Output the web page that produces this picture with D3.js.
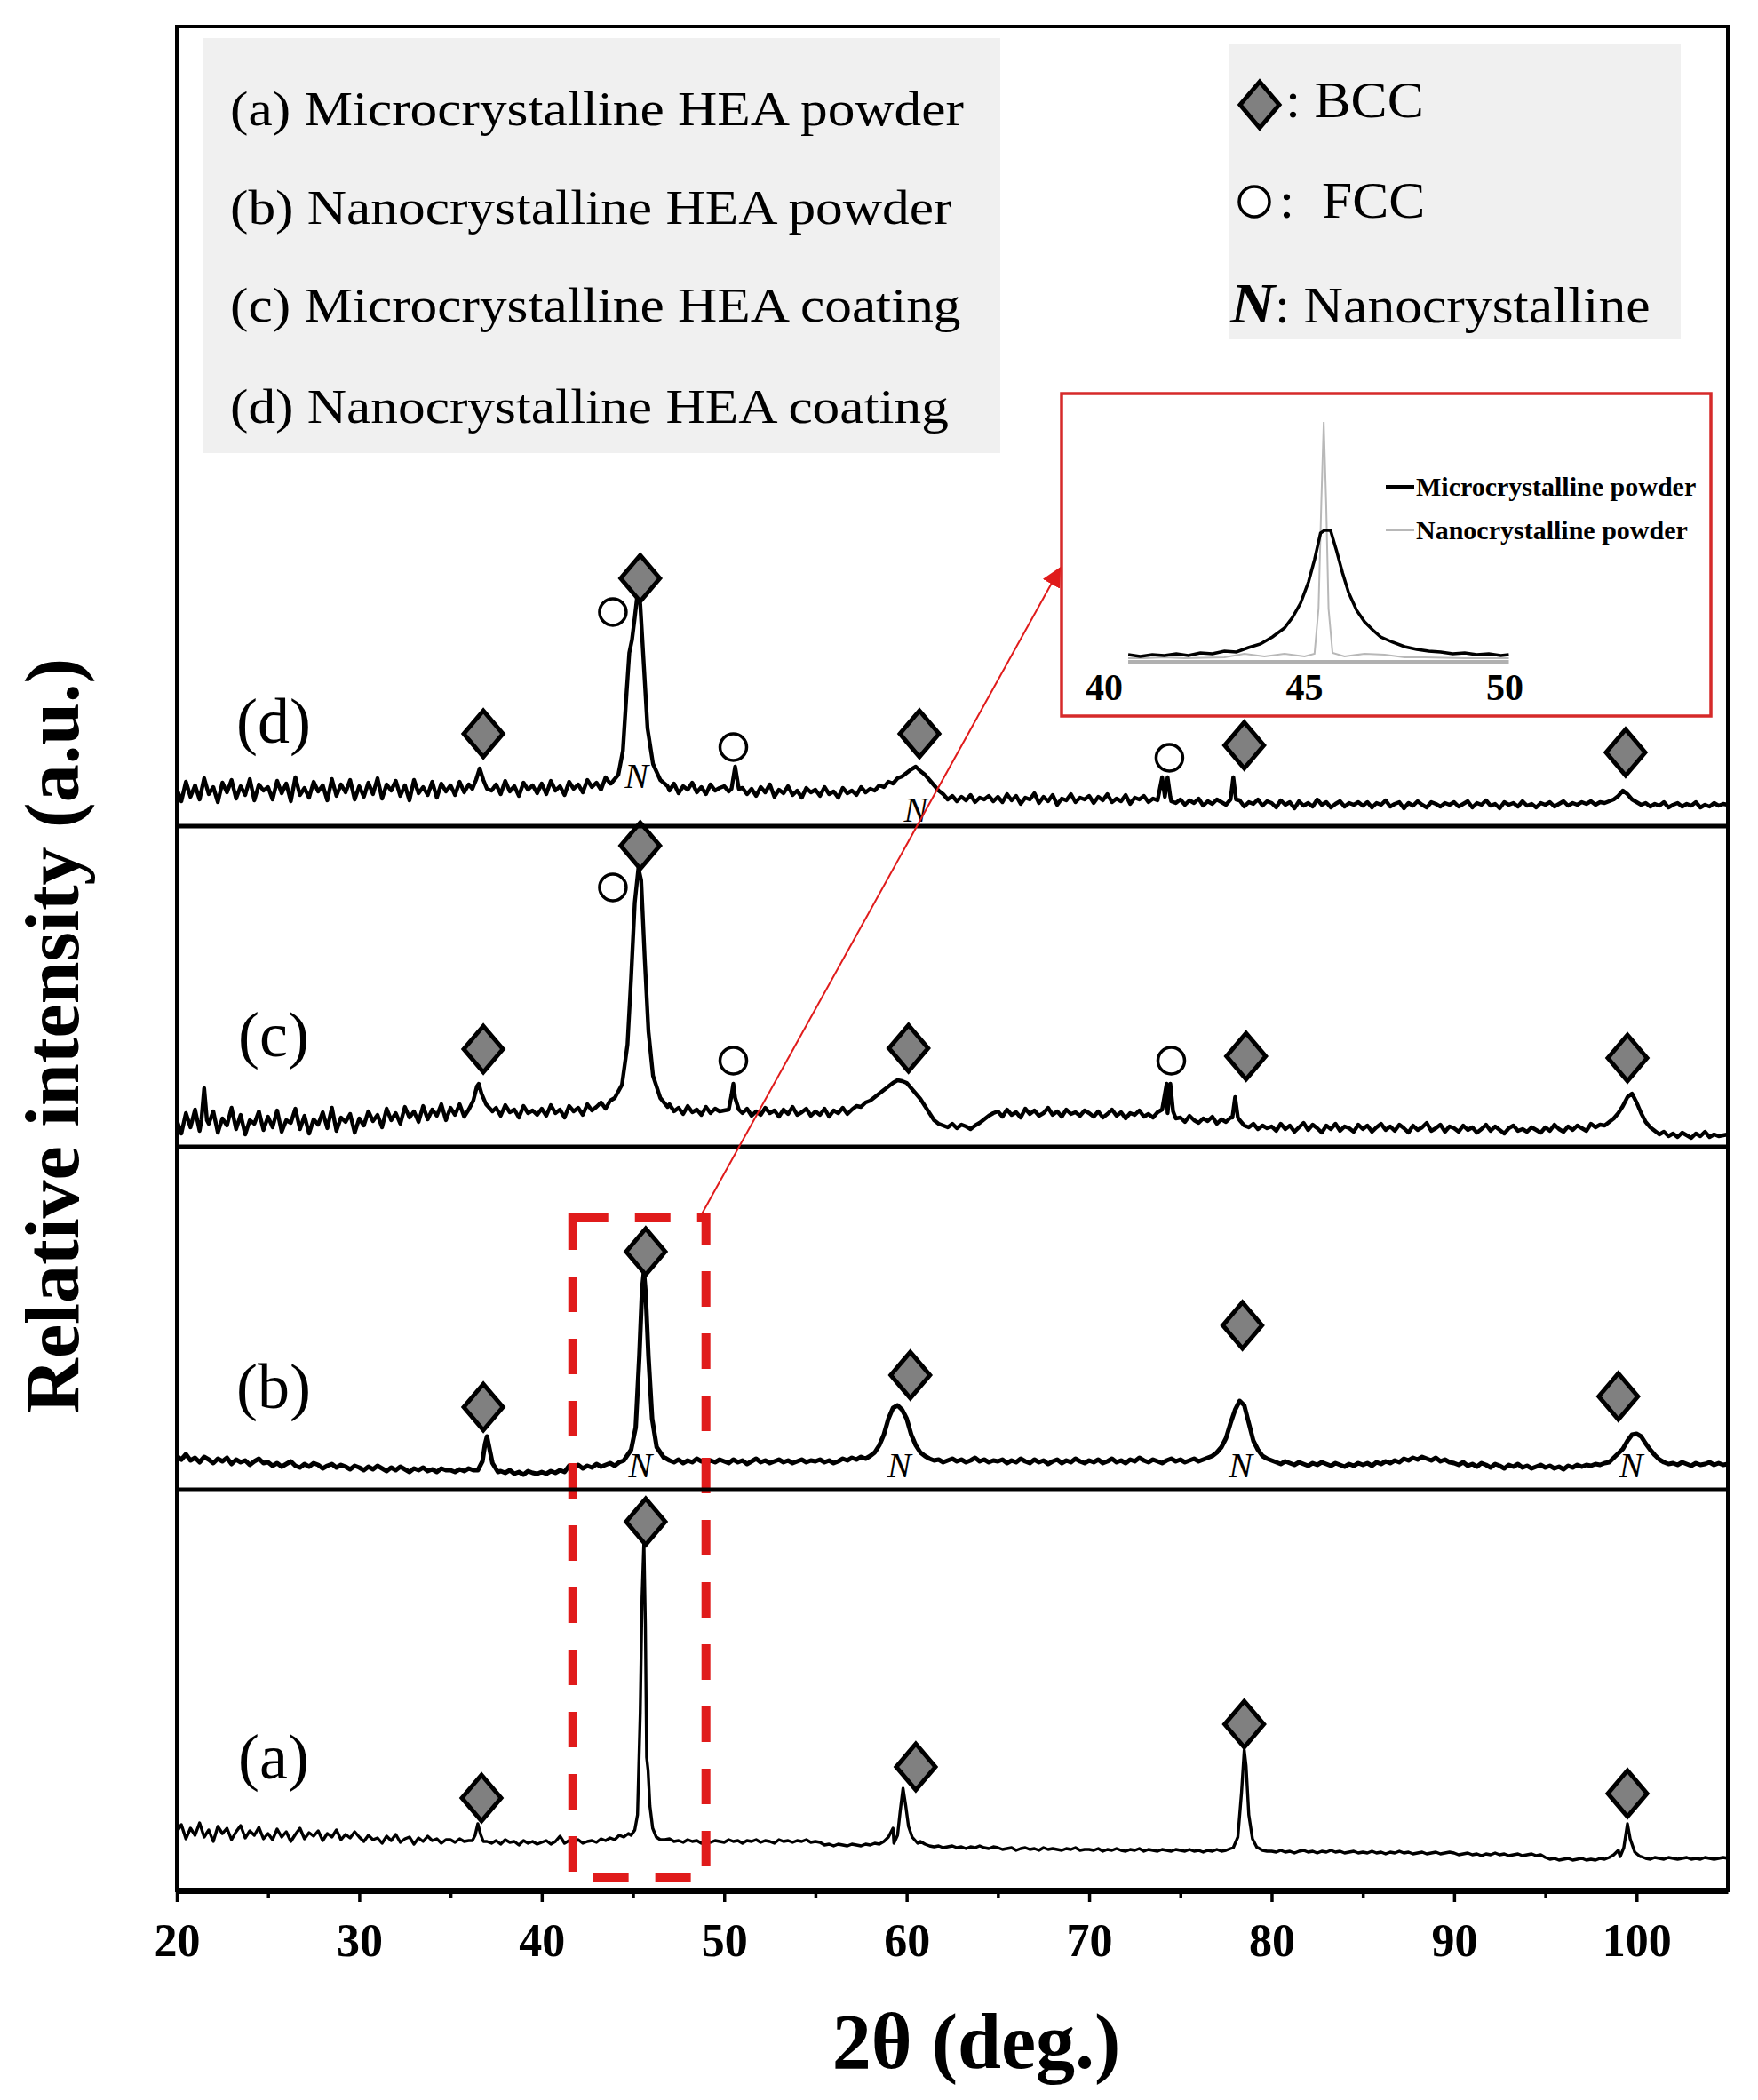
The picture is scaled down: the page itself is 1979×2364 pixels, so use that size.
<!DOCTYPE html>
<html><head><meta charset="utf-8">
<script src="https://cdn.jsdelivr.net/npm/d3@7"></script>
<style>
body{margin:0;background:#fff}
svg{display:block}
text{font-family:"Liberation Serif","Times New Roman",serif;fill:#000}
</style>
</head><body>
<svg id="chart" width="1979" height="2364"></svg>
<script>
// ---------------- DATA ----------------
const xTicks = [20, 30, 40, 50, 60, 70, 80, 90, 100];
const xMinorTicks = [25, 35, 45, 55, 65, 75, 85, 95];
const panelLabels = ["(a)", "(b)", "(c)", "(d)"];
const legendLabels = ["(a) Microcrystalline HEA powder", "(b) Nanocrystalline HEA powder",
  "(c) Microcrystalline HEA coating", "(d) Nanocrystalline HEA coating"];
const phaseLabels = [": BCC", ":  FCC", ": Nanocrystalline"];
const insetTicks = [40, 45, 50];
const insetSeriesNames = ["Microcrystalline powder", "Nanocrystalline powder"];
const gridStep = 0.25;

// baseline segments: [start 2θ, intensity values every 0.25°]
const baseA = [
 [20,[66,74,58,70,62,76,60,68,55,72,64,70,57,66,73,59,67,62,71,58]],
 [25,[64,57,69,60,66,55,63,70,58,65,61,67,56,64,60,68,57,63,59,66]],
 [30,[60,55,62,57,59,53,61,56,63,54,58,60,52,59,55,61,56,58,53,57]],
 [35,[57,54,58,55,56,57,68,60,55,53,56,52,57,54,55,51,56,53,55,52]],
 [40,[54,56,52,55,61,53,56,54,57,53,55,56,54,58,56,59,57,62,60,64]],
 [45,[80,150,300,200,90,66,60,57,58,55,56,54,57,55,56,53,57,54,56,55]],
 [50,[54,57,55,56,53,56,55,57,54,56,55,53,57,55,56,54,56,55,57,54]],
 [55,[55,54,51,52,50,52,51,50,52,51,50,52,51,53,52,55,60,70,95,112]],
 [60,[100,75,62,55,52,50,49,50,48,49,50,48,49,47,49,48,50,48,47,49]],
 [65,[48,46,47,48,45,47,48,46,47,45,48,46,47,46,45,47,46,48,45,46]],
 [70,[46,45,47,44,46,45,47,45,44,46,45,47,44,46,45,44,46,45,44,46]],
 [75,[45,44,46,44,45,43,45,44,46,44,45,47,50,75,158,90,58,48,45,44]],
 [80,[44,43,45,43,44,42,44,45,43,44,42,44,43,45,43,44,42,43,44,42]],
 [85,[43,42,44,42,43,41,43,42,44,42,43,41,42,43,41,42,43,41,42,43]],
 [90,[42,40,41,42,40,41,39,41,40,42,40,41,39,40,41,39,40,41,39,40]],
 [95,[37,35,36,34,35,36,34,35,36,34,35,34,36,35,37,40,45,52,75,55]],
 [100,[44,38,36,35,37,36,35,37,36,35,36,37,35,36,35,37,36,35,36,37]],
 [105,[36]]
];
const peaksA = [
 [[36.2,56],[36.35,62],[36.5,75],[36.65,63],[36.8,55]],
 [[44.9,62],[45.1,68],[45.25,85],[45.4,200],[45.5,330],[45.6,393],[45.68,300],[45.75,150],[45.83,135],[45.93,95],[46.08,70],[46.28,60],[46.5,57]],
 [[59.3,53],[59.5,62],[59.65,90],[59.8,115],[59.95,95],[60.1,72],[60.3,60],[60.6,53]],
 [[77.9,48],[78.15,60],[78.35,110],[78.5,158],[78.6,140],[78.75,85],[78.95,58],[79.2,48]],
 [[99.1,38],[99.3,48],[99.5,75],[99.65,58],[99.9,43],[100.2,38]]
];

const baseB = [
 [20,[38,34,40,33,36,31,37,34,30,35,32,36,29,34,31,33,28,32,35,30]],
 [25,[31,27,30,26,29,32,27,25,29,26,30,28,24,27,29,25,28,26,23,27]],
 [30,[25,22,26,23,27,24,21,25,22,26,23,20,24,22,25,21,23,20,24,22]],
 [35,[22,20,23,21,24,22,24,35,60,38,25,21,19,22,18,20,17,21,19,18]],
 [40,[20,18,21,19,22,20,27,25,28,24,27,25,29,26,28,30,27,31,33,36]],
 [45,[60,120,200,245,170,80,45,36,33,31,34,30,33,31,35,32,30,33,31,34]],
 [50,[32,30,34,31,33,29,32,35,31,33,30,32,34,31,33,30,32,34,31,33]],
 [55,[32,34,31,33,30,32,35,33,36,34,37,35,38,42,50,62,80,92,95,90]],
 [60,[80,62,50,42,38,35,33,34,31,33,35,32,34,31,33,36,32,34,31,33]],
 [65,[32,34,30,33,31,35,32,30,34,31,33,29,32,34,30,33,31,35,32,30]],
 [70,[33,31,34,30,32,35,31,33,30,34,32,36,33,31,34,32,30,33,35,32]],
 [75,[34,31,33,35,32,34,36,38,42,48,58,75,90,100,95,75,55,45,38,35]],
 [80,[33,31,29,32,30,28,31,29,27,30,28,31,29,27,30,28,26,29,27,30]],
 [85,[28,30,27,31,29,32,30,33,31,35,33,36,34,37,35,33,36,32,34,31]],
 [90,[30,28,31,27,29,26,30,28,25,29,27,24,28,26,29,25,27,24,26,28]],
 [95,[25,27,24,26,23,27,25,28,26,28,27,29,28,30,31,36,41,46,55,62]],
 [100,[63,60,52,45,39,34,31,29,30,28,31,29,27,30,28,29,31,28,30,28]],
 [105,[29]]
];
const peaksB = [
 [[36.5,22],[36.75,32],[36.9,52],[37.0,60],[37.1,50],[37.3,30],[37.6,20]],
 [[44.6,36],[44.9,45],[45.15,70],[45.35,150],[45.5,225],[45.6,245],[45.7,220],[45.85,150],[46.05,80],[46.3,48],[46.7,36]]
];

const baseC = [
 [20,[30,15,38,22,42,18,34,26,40,16,32,24,44,20,36,14,30,26,40,19]],
 [25,[34,22,41,17,30,27,43,20,35,15,31,25,39,21,44,18,33,28,37,16]],
 [30,[32,24,40,29,36,22,43,30,38,26,45,33,40,28,46,31,42,35,48,30]],
 [35,[44,36,48,34,42,45,60,55,46,38,44,35,47,39,42,33,46,38,41,36]],
 [40,[43,35,47,38,42,33,46,40,44,36,48,41,45,50,43,52,55,60,70,100]],
 [45,[200,300,310,220,130,80,56,45,48,40,44,37,46,39,42,36,45,38,43,40]],
 [50,[41,37,68,44,38,43,35,40,36,44,38,41,34,42,37,45,36,39,43,35]],
 [55,[40,36,43,34,41,38,44,37,42,46,45,50,52,56,60,64,68,72,75,74]],
 [60,[72,66,60,54,46,38,30,26,24,22,26,21,25,23,20,24,27,31,35,38]],
 [65,[40,34,42,36,39,33,43,37,41,35,38,44,36,40,34,42,37,39,35,41]],
 [70,[38,34,40,33,37,42,35,39,32,38,36,41,34,37,33,39,42,71,40,32]],
 [75,[33,28,35,30,27,32,29,34,26,31,28,33,56,30,24,22,26,20,24,21]],
 [80,[23,18,26,20,24,17,22,27,19,25,21,16,24,20,26,18,23,21,17,25]],
 [85,[20,24,17,22,26,19,23,18,25,21,16,24,19,22,27,18,21,25,17,23]],
 [90,[21,17,24,19,22,16,20,25,18,23,19,15,21,24,18,20,17,22,19,16]],
 [95,[22,18,25,20,17,23,19,24,21,18,26,22,25,24,28,32,38,46,56,60]],
 [100,[50,38,28,22,18,14,17,12,15,11,16,13,10,15,12,17,11,14,12,13]],
 [105,[14]]
];
const peaksC = [
 [[21.35,30],[21.5,66],[21.65,30]],
 [[36.0,42],[36.25,52],[36.45,68],[36.55,71],[36.7,60],[36.95,48],[37.3,40]],
 [[44.0,55],[44.4,70],[44.7,115],[44.9,190],[45.1,275],[45.3,314],[45.45,300],[45.65,210],[45.85,130],[46.1,80],[46.5,55],[46.9,45]],
 [[50.25,42],[50.4,58],[50.5,71],[50.6,55],[50.8,42]],
 [[74.3,38],[74.45,71],[74.6,40]],
 [[77.85,33],[78.0,56],[78.15,33]]
];

const baseD = [
 [20,[42,28,50,33,46,30,54,36,44,27,49,38,52,31,45,35,53,29,47,40]],
 [25,[44,30,51,37,48,28,55,35,43,32,50,39,46,29,53,34,47,38,52,30]],
 [30,[45,33,49,36,54,31,47,40,51,34,46,29,52,37,44,35,50,32,48,39]],
 [35,[46,35,50,38,47,52,58,62,50,40,47,36,51,39,45,34,49,41,46,37]],
 [40,[48,36,51,40,45,35,50,42,47,38,52,44,49,41,55,48,60,80,150,200]],
 [45,[215,262,220,130,75,55,50,46,40,48,37,45,41,49,38,44,36,47,40,43]],
 [50,[45,39,50,67,43,36,42,34,44,38,47,33,41,37,45,35,40,32,43,38]],
 [55,[41,34,44,36,39,32,43,37,40,35,44,38,42,40,46,44,50,48,54,56]],
 [60,[60,64,67,62,58,52,46,40,36,30,34,28,33,29,35,27,32,30,34,28]],
 [65,[33,27,36,29,34,25,32,30,37,26,33,28,35,24,31,29,36,27,32,30]],
 [70,[34,26,33,29,36,27,31,28,35,25,32,30,34,27,31,29,55,30,28,26]],
 [75,[30,24,29,26,31,23,28,25,30,27,24,55,26,29,22,27,25,30,23,28]],
 [80,[26,21,29,24,27,20,28,23,26,22,30,24,27,21,25,28,22,26,24,27]],
 [85,[23,27,21,26,24,29,22,25,27,20,26,23,28,24,21,27,25,22,26,24]],
 [90,[27,22,25,28,21,26,24,29,23,25,20,27,24,26,22,28,23,25,21,26]],
 [95,[24,27,22,25,28,23,26,24,27,25,28,24,27,26,28,30,34,40,36,30]],
 [100,[27,24,26,22,25,23,27,21,24,26,22,25,23,27,21,24,22,26,23,25]],
 [105,[24]]
];
const peaksD = [
 [[36.2,42],[36.4,52],[36.6,65],[36.8,52],[37.0,42]],
 [[43.8,48],[44.2,58],[44.45,85],[44.65,150],[44.8,195],[44.95,210],[45.1,235],[45.25,262],[45.4,250],[45.6,180],[45.8,110],[46.1,70],[46.5,52],[46.9,45]],
 [[50.4,42],[50.6,67],[50.8,42]],
 [[74.15,33],[74.3,55],[74.45,33]],
 [[77.75,30],[77.9,55],[78.05,30]]
];

// phase markers [2θ, height]
const bccA = [[36.7,104],[45.7,415],[60.5,139],[78.5,187],[99.5,109]];
const bccB = [[36.8,93],[45.7,268],[60.2,129],[78.4,185],[99.0,105]];
const bccC = [[36.8,110],[45.4,339],[60.1,111],[78.6,102],[99.5,100]];
const bccD = [[36.8,104],[45.4,279],[60.7,104],[78.5,91],[99.4,83]];
const fccC = [[43.9,292],[50.5,97],[74.5,97]];
const fccD = [[43.9,241],[50.5,89],[74.4,77]];
const nanoB = [[45.4,14],[59.6,14],[78.3,14],[99.7,14]];
const nanoD = [[45.2,43],[60.5,5]];

// inset series
const insetMicro = [[40.6,8],[40.9,6],[41.2,8],[41.5,7],[41.8,9],[42.1,7],[42.4,10],[42.7,9],[43.0,12],[43.3,11],[43.6,16],[43.9,20],[44.2,28],[44.5,38],[44.7,50],[44.9,66],[45.1,90],[45.25,115],[45.4,145],[45.5,148],[45.65,148],[45.8,125],[45.95,100],[46.1,78],[46.3,58],[46.5,45],[46.7,36],[46.9,28],[47.2,22],[47.5,17],[47.8,14],[48.1,12],[48.4,11],[48.7,9],[49.0,10],[49.3,8],[49.6,9],[49.9,7],[50.1,8]];
const insetNano = [[40.6,4],[41.0,4],[41.5,5],[42.0,4],[43.0,5],[43.5,9],[44.0,6],[44.5,9],[45.0,6],[45.25,9],[45.35,60],[45.42,180],[45.48,270],[45.54,180],[45.6,60],[45.7,10],[46.0,6],[46.5,9],[47.0,8],[47.5,5],[48.0,5],[49.0,4],[50.1,4]];
const zoomRange = [41.7, 49.0];

// ---------------- LAYOUT ----------------
const svg = d3.select("#chart");
const L = 199, R = 1945, T = 30, B = 2128;
const x = d3.scaleLinear().domain([20, 105]).range([L, R]);
const panels = [
  {label: panelLabels[0], bottom: 2128, base: baseA, peaks: peaksA, bcc: bccA, fcc: [], nano: [], lw: 3.4, lab: 2002},
  {label: panelLabels[1], bottom: 1677, base: baseB, peaks: peaksB, bcc: bccB, fcc: [], nano: nanoB, lw: 5, lab: 1585},
  {label: panelLabels[2], bottom: 1291, base: baseC, peaks: peaksC, bcc: bccC, fcc: fccC, nano: [], lw: 4.4, lab: 1189},
  {label: panelLabels[3], bottom: 930,  base: baseD, peaks: peaksD, bcc: bccD, fcc: fccD, nano: nanoD, lw: 4.4, lab: 836}
];
panels.forEach(p => p.y = d3.scaleLinear().domain([0, 450]).range([p.bottom, p.bottom - 450]));

function buildSeries(segments, peaks) {
  let pts = [];
  segments.forEach(([start, vals]) => vals.forEach((v, j) => pts.push([start + j * gridStep, v])));
  const ranges = peaks.map(pk => [pk[0][0], pk[pk.length - 1][0]]);
  pts = pts.filter(([t]) => !ranges.some(([a, b]) => t >= a && t <= b));
  peaks.forEach(pk => pts.push(...pk));
  pts.sort((a, b) => a[0] - b[0]);
  return pts;
}
function stretch(sel, factor) {
  sel.each(function () {
    const w = this.getComputedTextLength();
    d3.select(this).attr("textLength", w * factor).attr("lengthAdjust", "spacingAndGlyphs");
  });
}
const diamond = "M0,-26L22,0L0,26L-22,0Z";

// legend boxes
svg.append("rect").attr("x", 228).attr("y", 43).attr("width", 898).attr("height", 467).attr("fill", "#f0f0f0");
svg.append("rect").attr("x", 1384).attr("y", 49).attr("width", 508).attr("height", 333).attr("fill", "#f0f0f0");

const legBase = [141, 252, 362, 476];
svg.selectAll("text.leg").data(legendLabels).join("text").attr("class", "leg")
  .attr("x", 259).attr("y", (d, i) => legBase[i]).attr("font-size", 55).text(d => d)
  .call(stretch, 1.115);

// phase legend
svg.append("path").attr("d", diamond).attr("transform", "translate(1418,118)")
  .attr("fill", "#808080").attr("stroke", "#000").attr("stroke-width", 5);
svg.append("text").attr("x", 1447).attr("y", 132).attr("font-size", 56).text(phaseLabels[0]).call(stretch, 1.1);
svg.append("circle").attr("cx", 1412).attr("cy", 227).attr("r", 17).attr("fill", "#fff").attr("stroke", "#000").attr("stroke-width", 3.5);
svg.append("text").attr("x", 1440).attr("y", 245).attr("font-size", 56).attr("xml:space", "preserve").text(phaseLabels[1]).call(stretch, 1.1);
const nt = svg.append("text").attr("x", 1385).attr("y", 363).attr("font-size", 56);
nt.append("tspan").attr("font-size", 63).attr("font-weight", "bold").attr("font-style", "italic").text("N");
nt.append("tspan").text(phaseLabels[2]);
nt.call(stretch, 1.1);

// traces
const line = (p) => d3.line().x(d => x(d[0])).y(d => p.y(d[1]));
panels.forEach(p => {
  const data = buildSeries(p.base, p.peaks);
  svg.append("path").datum(data).attr("d", line(p)).attr("fill", "none")
    .attr("stroke", "#000").attr("stroke-width", p.lw).attr("stroke-linejoin", "round");
});

// dashed zoom box
const pb = panels[1], pa = panels[0];
svg.append("rect").attr("x", x(zoomRange[0])).attr("y", pb.y(306))
  .attr("width", x(zoomRange[1]) - x(zoomRange[0])).attr("height", pa.y(14) - pb.y(306))
  .attr("fill", "none").attr("stroke", "#e01b1b").attr("stroke-width", 10).attr("stroke-dasharray", "40,30");

// markers
panels.forEach(p => {
  svg.selectAll(null).data(p.bcc).join("path").attr("d", diamond)
    .attr("transform", d => `translate(${x(d[0])},${p.y(d[1])})`)
    .attr("fill", "#808080").attr("stroke", "#000").attr("stroke-width", 5).attr("stroke-linejoin", "miter");
  svg.selectAll(null).data(p.fcc).join("circle")
    .attr("cx", d => x(d[0])).attr("cy", d => p.y(d[1])).attr("r", 15)
    .attr("fill", "#fff").attr("stroke", "#000").attr("stroke-width", 3.5);
  svg.selectAll(null).data(p.nano).join("text")
    .attr("x", d => x(d[0])).attr("y", d => p.y(d[1])).attr("text-anchor", "middle")
    .attr("font-size", 40).attr("font-style", "italic").text("N");
  svg.append("text").attr("x", 308).attr("y", p.lab).attr("text-anchor", "middle")
    .attr("font-size", 72).text(p.label);
});

// panel separators and frame
[930, 1291, 1677].forEach(yy => svg.append("line").attr("x1", L).attr("x2", R).attr("y1", yy).attr("y2", yy)
  .attr("stroke", "#000").attr("stroke-width", 5));
svg.append("rect").attr("x", L).attr("y", T).attr("width", R - L).attr("height", B - T)
  .attr("fill", "none").attr("stroke", "#000").attr("stroke-width", 4);

// x axis
const ax = svg.append("g").attr("transform", `translate(0,${B})`)
  .call(d3.axisBottom(x).tickValues(xTicks).tickSize(13).tickSizeOuter(0).tickFormat(d3.format("d")));
ax.select(".domain").attr("stroke-width", 7);
ax.selectAll(".tick line").attr("stroke-width", 3.5);
ax.selectAll(".tick text").attr("y", 74).attr("dy", 0).attr("font-size", 52).attr("font-weight", "bold")
  .attr("font-family", "Liberation Serif, serif");
svg.append("g").attr("transform", `translate(0,${B})`)
  .call(d3.axisBottom(x).tickValues(xMinorTicks).tickSize(9).tickFormat(""))
  .call(g => g.select(".domain").remove())
  .selectAll(".tick line").attr("stroke-width", 3.5);

svg.append("text").attr("x", 1099).attr("y", 2328).attr("text-anchor", "middle")
  .attr("font-size", 88).attr("font-weight", "bold").text("2θ (deg.)");
svg.append("text").attr("transform", "translate(88,1166) rotate(-90)").attr("text-anchor", "middle")
  .attr("font-size", 86).attr("font-weight", "bold").text("Relative intensity (a.u.)");

// inset
svg.append("rect").attr("x", 1195).attr("y", 443).attr("width", 731).attr("height", 363)
  .attr("fill", "#fff").attr("stroke", "#d62a2a").attr("stroke-width", 3.5);
const xi = d3.scaleLinear().domain([40, 50]).range([1243, 1694]);
const yi = d3.scaleLinear().domain([0, 300]).range([745, 445]);
svg.append("line").attr("x1", xi(40.6)).attr("x2", xi(50.1)).attr("y1", yi(0)).attr("y2", yi(0))
  .attr("stroke", "#b0b0b0").attr("stroke-width", 4);
const li = d3.line().x(d => xi(d[0])).y(d => yi(d[1]));
svg.append("path").datum(insetNano).attr("d", li).attr("fill", "none").attr("stroke", "#b8b8b8").attr("stroke-width", 2);
svg.append("path").datum(insetMicro).attr("d", li).attr("fill", "none").attr("stroke", "#000").attr("stroke-width", 3.5);
svg.selectAll(null).data(insetTicks).join("text").attr("x", d => xi(d)).attr("y", 788)
  .attr("text-anchor", "middle").attr("font-size", 42).attr("font-weight", "bold").text(d => d);
const ilg = [{y: 548, c: "#000", w: 4}, {y: 597, c: "#b8b8b8", w: 2}];
ilg.forEach((g, i) => {
  svg.append("line").attr("x1", 1560).attr("x2", 1592).attr("y1", g.y).attr("y2", g.y).attr("stroke", g.c).attr("stroke-width", g.w);
  svg.append("text").attr("x", 1594).attr("y", g.y + 10).attr("font-size", 30).attr("font-weight", "bold")
    .text(insetSeriesNames[i]).call(stretch, 1.0);
});

// arrow from zoom box to inset
const defs = svg.append("defs");
defs.append("marker").attr("id", "ah").attr("viewBox", "0 0 10 10").attr("refX", 9).attr("refY", 5)
  .attr("markerWidth", 22).attr("markerHeight", 22).attr("markerUnits", "userSpaceOnUse").attr("orient", "auto")
  .append("path").attr("d", "M0,0L10,5L0,10Z").attr("fill", "#e01b1b");
svg.append("line").attr("x1", x(zoomRange[1]) - 6).attr("y1", pb.y(308))
  .attr("x2", 1193).attr("y2", 640).attr("stroke", "#e01b1b").attr("stroke-width", 2)
  .attr("marker-end", "url(#ah)");
</script>
</body></html>
